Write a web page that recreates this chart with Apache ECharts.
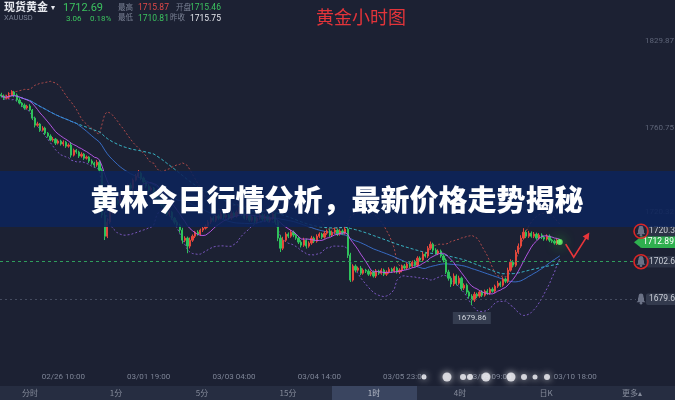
<!DOCTYPE html>
<html><head><meta charset="utf-8">
<script src="https://cdn.jsdelivr.net/npm/echarts/dist/echarts.min.js"></script>
<style>html,body{margin:0;padding:0;background:#1c2133;}#c{width:675px;height:400px;}</style>
</head><body><div id="c"></div>
<script>
// ---- data (hourly XAUUSD) ----
const firstOpen = 1790.2;
const closes = [
1789.5,1788.4,1788.9,1790.0,1791.6,1790.0,1787.4,1785.8,1784.7,1783.2,
1784.2,1782.1,1777.9,1774.2,1774.8,1771.6,1772.7,1770.0,1768.5,1766.4,
1766.9,1764.8,1765.9,1764.3,1765.3,1763.2,1763.8,1758.5,1761.1,1760.1,
1758.0,1759.0,1756.9,1757.5,1755.4,1754.3,1753.3,1754.8,1750.6,1727.1,
1716.0,1723.4,1728.6,1732.3,1734.9,1733.3,1737.0,1739.1,1740.2,1742.8,
1741.2,1745.4,1747.5,1749.1,1746.5,1744.4,1742.3,1740.2,1741.2,1737.5,
1736.0,1733.9,1732.3,1729.7,1727.6,1728.6,1725.5,1723.4,1721.8,1719.2,
1713.9,1715.0,1710.8,1713.9,1716.0,1718.1,1717.1,1719.2,1720.2,1721.3,
1723.4,1725.5,1724.4,1726.5,1725.5,1727.6,1726.0,1727.1,1725.5,1728.1,
1726.5,1728.6,1729.7,1727.6,1725.5,1727.1,1724.4,1726.0,1723.9,1725.5,
1727.1,1725.0,1726.5,1724.4,1725.5,1727.6,1723.4,1715.0,1709.7,1713.9,
1717.1,1716.0,1718.1,1716.6,1715.0,1712.9,1711.3,1713.9,1710.8,1712.4,
1715.0,1713.4,1716.0,1717.1,1715.5,1717.6,1718.7,1716.6,1718.1,1719.2,
1717.1,1718.7,1717.6,1719.7,1706.1,1693.0,1700.3,1698.2,1699.3,1696.6,
1698.2,1697.7,1696.1,1697.2,1695.1,1697.7,1696.6,1698.2,1696.1,1697.2,
1698.7,1697.7,1699.3,1697.2,1698.2,1700.3,1699.3,1701.4,1700.3,1702.4,
1700.8,1704.5,1703.5,1706.6,1705.6,1709.7,1711.8,1708.7,1707.1,1708.2,
1705.6,1703.5,1697.2,1694.0,1690.9,1695.1,1691.4,1694.0,1688.8,1690.3,
1686.7,1684.6,1682.5,1685.6,1684.6,1686.7,1685.1,1687.2,1686.2,1688.2,
1687.2,1689.8,1691.4,1690.3,1693.5,1692.4,1698.2,1702.4,1700.8,1707.6,
1710.8,1715.0,1718.1,1716.0,1717.6,1716.0,1717.1,1715.0,1716.6,1715.5,
1714.5,1716.0,1713.9,1713.4,1712.4,1713.9,1712.9
];
const wickUp = [
1.0,0.8,1.2,1.5,1.0,0.6,0.8,1.0,0.5,0.9,
0.7,1.0,0.6,0.8,1.2,0.5,1.0,0.7,0.6,0.9,
1.1,0.6,0.8,0.7,1.0,0.6,0.9,1.5,0.8,0.6,
0.7,1.0,0.6,0.8,0.5,0.9,0.7,1.2,0.8,1.0,
1.5,2.0,1.2,0.8,1.0,0.9,1.3,0.7,1.0,0.8,
1.2,0.9,1.1,1.6,0.8,0.7,0.6,1.0,0.9,0.6,
0.8,0.7,1.0,0.6,0.8,0.9,0.7,0.6,1.0,0.8,
1.2,1.0,0.8,1.4,0.9,0.7,1.0,0.8,0.6,0.9,
1.1,0.8,1.0,0.7,0.9,1.3,0.8,1.0,0.6,1.2,
0.8,1.0,1.5,0.7,0.9,0.8,1.0,0.7,1.1,0.9,
1.0,0.8,1.2,0.7,0.9,1.4,0.8,1.0,1.5,1.8,
1.0,0.9,1.2,0.8,0.7,0.9,1.0,1.3,0.8,0.9,
1.2,0.8,1.0,0.9,0.7,1.1,0.8,1.0,0.9,1.2,
0.8,1.0,0.9,1.6,1.0,1.2,1.0,0.9,0.8,1.1,
0.9,0.7,1.0,0.8,0.9,1.1,0.7,1.0,0.8,0.9,
1.0,0.8,0.9,0.7,1.0,0.8,1.1,0.9,1.0,0.8,
1.2,1.0,0.9,1.3,1.0,1.1,1.4,0.8,1.0,0.9,
0.8,1.0,0.9,1.2,1.0,1.4,0.9,1.3,0.8,1.0,
0.9,0.8,1.0,1.2,0.8,0.9,1.0,0.8,1.1,0.9,
1.0,0.8,1.2,0.9,1.0,0.8,1.3,1.5,1.0,1.2,
1.4,1.5,2.1,1.0,1.2,0.9,1.1,0.8,1.0,0.9,
0.8,1.0,0.9,0.7,0.8,1.0,0.6
];
const wickDn = [
0.8,1.0,0.7,0.9,0.6,1.1,0.8,0.7,1.0,0.9,
0.8,0.6,1.0,1.2,0.8,0.9,0.7,1.0,0.8,0.6,
0.9,1.0,0.7,0.8,1.1,0.9,0.8,1.3,0.7,0.9,
1.0,0.8,0.9,0.7,1.0,0.8,1.2,0.9,1.0,1.5,
2.0,1.0,0.8,1.2,0.9,1.0,0.7,0.8,1.0,0.9,
0.8,1.0,0.7,0.9,1.1,0.8,1.0,0.9,0.7,1.0,
0.9,1.0,0.8,1.1,0.9,1.0,0.8,1.2,0.9,1.4,
1.8,1.0,3.7,1.2,0.9,1.0,0.8,0.9,1.0,0.7,
0.9,1.0,0.8,1.0,0.9,0.7,1.1,0.8,1.0,0.9,
1.0,0.8,0.9,1.0,0.7,1.0,0.9,0.8,1.0,0.9,
0.8,1.0,0.9,0.8,1.0,0.9,1.2,1.6,2.0,1.0,
0.9,1.0,0.8,1.1,0.9,1.0,1.2,0.9,1.3,0.8,
0.9,1.0,0.8,0.9,1.0,0.8,0.9,1.0,0.8,0.9,
1.0,0.8,0.9,0.7,1.5,1.0,0.8,1.2,0.9,1.0,
0.8,1.0,0.9,1.1,0.8,1.0,0.9,0.8,1.0,0.9,
0.8,1.0,0.9,0.8,1.0,1.1,0.9,0.8,1.0,0.9,
0.8,1.0,0.9,1.0,0.8,1.0,0.9,1.1,0.8,1.0,
0.9,1.2,1.0,1.3,1.5,1.0,1.2,0.9,1.4,1.0,
1.2,1.3,2.6,1.0,1.1,0.9,1.0,0.8,1.0,0.9,
0.8,1.0,0.9,1.0,0.8,1.0,0.9,0.8,1.0,0.9,
1.0,0.9,0.8,1.0,0.9,0.8,1.0,0.9,0.8,1.0,
0.9,0.8,1.0,0.9,0.8,1.0,0.7
];
const totalSlots = 246;
const xTickLabels = ['02/26 10:00','03/01 19:00','03/03 04:00','03/04 14:00','03/05 23:00','03/09 09:00','03/10 18:00'];
const xFirstTick = 24, xTickStep = 33;
const axisLabelTexts = ['1829.87','1760.75','1720.32'];
const axisLabelLevels = [1818.3,1772.7,1728.6];
const tagTexts = ['1720.32','1712.89','1702.63','1679.61'];
const tagLevels = [1718.6,1712.89,1702.63,1683.0];
const lowText = '1679.86';
const lowIndex = 182;
const headerRow1 = [['现货黄金','#e6e8ee',11],['1712.69','#3cc35f',11],['最高','#7a8194',7.5],['1715.87','#e04848',8.5],['开盘','#7a8194',7.5],['1715.46','#3cc35f',8.5]];
const headerRow2 = [['XAUUSD','#7a8194',7.5],['3.06','#3cc35f',8],['0.18%','#3cc35f',8],['最低','#7a8194',7.5],['1710.81','#3cc35f',8.5],['昨收','#7a8194',7.5],['1715.75','#e6e8ee',8.5]];
const titleText = '黄金小时图';
const bannerText = '黄林今日行情分析，最新价格走势揭秘';
const toolbarItems = ['分时','1分','5分','15分','1时','4时','日K','更多▴'];
const toolbarActive = 4;

// ---- build ----
const chart = echarts.init(document.getElementById('c'));
const N = closes.length;
const opens = closes.map((c,i)=> i===0 ? firstOpen : closes[i-1]);
const highs = closes.map((c,i)=> +(Math.max(opens[i],c)+wickUp[i]).toFixed(2));
const lows = closes.map((c,i)=> +(Math.min(opens[i],c)-wickDn[i]).toFixed(2));
const ohlc = closes.map((c,i)=>[opens[i],c,lows[i],highs[i]]);
const cats = Array.from({length:totalSlots},(_,i)=>String(i));
function ma(n){return closes.map((c,i)=>{const s=Math.max(0,i-n+1);let t=0;for(let k=s;k<=i;k++)t+=closes[k];return +(t/(i-s+1)).toFixed(2);});}
function boll(n,m){const mid=ma(n);const up=[],dn=[];closes.forEach((c,i)=>{const s=Math.max(0,i-n+1);let v=0;for(let k=s;k<=i;k++)v+=(closes[k]-mid[i])**2;const sd=Math.sqrt(v/(i-s+1));up.push(+(mid[i]+m*sd).toFixed(2));dn.push(+(mid[i]-m*sd).toFixed(2));});return {up,dn};}
const ma10=ma(10), ma30=ma(30), ma60=ma(60), bb=boll(20,2);
const numFont = 'Roboto, "Noto Sans CJK SC", sans-serif';

const hidden = {color:'rgba(0,0,0,0)',width:0};
const markLineData = [];
axisLabelTexts.forEach((t,i)=>markLineData.push({yAxis:axisLabelLevels[i],lineStyle:hidden,
  label:{show:true,position:'end',formatter:t,color:'#5e6578',fontSize:8,fontFamily:numFont,distance:9}}));
const tagStyles = [
  {bg:'#2c3346',color:'#c9cdd6',dist:10,line:hidden},
  {bg:'#2fb04f',color:'#ffffff',dist:4,line:hidden},
  {bg:'#2c3346',color:'#c9cdd6',dist:10,line:{color:'#2f9d5c',type:[3,3],width:1}},
  {bg:'#333a4d',color:'#c9cdd6',dist:10,line:{color:'#454c60',type:[2,3],width:1}}
];
tagTexts.forEach((t,i)=>{const st=tagStyles[i];markLineData.push({yAxis:tagLevels[i],lineStyle:st.line,
  label:{show:true,position:'end',formatter:t,color:st.color,backgroundColor:st.bg,padding:[2,3,1,3],borderRadius:2,fontSize:8.5,fontFamily:numFont,distance:st.dist}});});

const lineSeries = (name,data,color,type,opacity,z)=>({name,type:'line',data,showSymbol:false,symbol:'none',silent:true,
  lineStyle:{color,width:1,type,opacity},z,animation:false});

chart.setOption({
  backgroundColor:'#1c2133',
  animation:false,
  grid:{left:0,right:39,top:19,bottom:40,containLabel:false,outerBoundsMode:'none'},
  xAxis:{type:'category',data:cats,boundaryGap:true,axisLine:{show:false},axisTick:{show:false},splitLine:{show:false},
    axisLabel:{show:true,color:'#7d8496',fontSize:8,fontFamily:numFont,margin:13,hideOverlap:false,
      interval:(idx)=> idx>=xFirstTick && (idx-xFirstTick)%xTickStep===0,
      formatter:(v)=>{const k=(Number(v)-xFirstTick)/xTickStep;return xTickLabels[k]||'';}}},
  yAxis:{type:'value',min:1651.1,max:1829.87,position:'right',axisLine:{show:false},axisTick:{show:false},axisLabel:{show:false},splitLine:{show:false}},
  series:[
    {type:'candlestick',data:ohlc,barWidth:'68%',z:3,
      itemStyle:{color:'#e5483c',color0:'#2fc25b',borderColor:'#e5483c',borderColor0:'#2fc25b',borderWidth:1},
      markLine:{silent:true,symbol:['none','none'],animation:false,data:markLineData},
      markPoint:{silent:true,animation:false,data:[{coord:[lowIndex,lows[lowIndex]],symbol:'rect',symbolSize:[38,12],symbolOffset:[0,13],
        itemStyle:{color:'#353d50'},label:{show:true,position:'inside',formatter:lowText,color:'#d0d4dc',fontSize:8,fontFamily:numFont}}]}},
    lineSeries('bbUp',bb.up,'#c5504e',[2,2],0.85,2),
    lineSeries('bbDn',bb.dn,'#8a60d8',[2,2],0.85,2),
    lineSeries('ma60',ma60,'#3cc8d8',[3,2],0.9,2),
    lineSeries('ma30',ma30,'#3c78dc','solid',0.85,2),
    lineSeries('ma10',ma10,'#c05af2','solid',0.9,4),
    {type:'scatter',data:[[N-1,closes[N-1]]],symbolSize:6,z:6,silent:true,
      itemStyle:{color:'#6cff6c',shadowBlur:12,shadowColor:'#33ff33'}}
  ]
});

// ---- decorations ----
const g = [];
const txt = (x,y,text,color,size,align,weight,font)=>({type:'text',z:200,silent:true,
  style:{x,y,text,fill:color,font:(weight||'normal')+' '+size+'px '+(font||numFont),textAlign:align||'left',textVerticalAlign:'middle'}});
const row1x=[4,63,118,138,176,190], row2x=[4,66,90,118,138,170,190];
headerRow1.forEach((h,i)=>g.push(txt(row1x[i],8,h[0],h[1],h[2],'left',i===0?'bold':'normal')));
g.push(txt(51,8,'▾','#e6e8ee',8));
headerRow2.forEach((h,i)=>g.push(txt(row2x[i],18.5,h[0],h[1],h[2])));
g.push(txt(361,17,titleText,'#e3343a',18,'center','normal','"Noto Sans CJK SC", sans-serif'));

// banner
g.push({type:'rect',z:150,silent:true,shape:{x:0,y:171,width:675,height:56},style:{fill:'rgba(13,35,90,0.88)'}});
g.push({type:'text',z:160,silent:true,style:{x:337,y:200,text:bannerText,fill:'#ffffff',font:'900 29px "Noto Sans CJK SC", sans-serif',
  textAlign:'center',textVerticalAlign:'middle',shadowBlur:3,shadowColor:'rgba(0,0,0,0.6)'}});

// toolbar
g.push({type:'rect',z:150,silent:true,shape:{x:0,y:386,width:675,height:14},style:{fill:'#262d41'}});
g.push({type:'rect',z:151,silent:true,shape:{x:332,y:386,width:85,height:14},style:{fill:'#3a4560'}});
toolbarItems.forEach((t,i)=>g.push(txt(30+86*i,393,t,i===toolbarActive?'#b8bdc9':'#858b9b',8,'center','normal','"Noto Sans CJK SC", sans-serif')));

// bells, rings and tag pointer
[0,2,3].forEach(i=>{
  const y = chart.convertToPixel({yAxisIndex:0}, tagLevels[i]);
  const x = 641;
  g.push({type:'polygon',z:170,silent:true,shape:{points:[[x-2,y-3.5],[x+2,y-3.5],[x+3,y-1],[x+3,y+1.5],[x+4.5,y+3],[x-4.5,y+3],[x-3,y+1.5],[x-3,y-1]]},style:{fill:'#6b7286'}});
  g.push({type:'circle',z:170,silent:true,shape:{cx:x,cy:y-3.2,r:2.4},style:{fill:'#6b7286'}});
  g.push({type:'circle',z:170,silent:true,shape:{cx:x,cy:y+4,r:1.3},style:{fill:'#6b7286'}});
  if(i!==3) g.push({type:'circle',z:171,silent:true,shape:{cx:x,cy:y,r:7},style:{fill:'none',stroke:'#d92626',lineWidth:1.6}});
});
{const y = chart.convertToPixel({yAxisIndex:0}, tagLevels[1]);
 g.push({type:'polygon',z:170,silent:true,shape:{points:[[634,y],[641,y-5.5],[641,y+5.5]]},style:{fill:'#2fb04f'}});}

// arrow from last candle
const p0 = chart.convertToPixel({seriesIndex:0},[N-1,closes[N-1]]);
const a=[p0[0]+6,p0[1]+2], b=[p0[0]+14,p0[1]+15], c=[p0[0]+28,p0[1]-7];
g.push({type:'polyline',z:180,silent:true,shape:{points:[a,b,c]},style:{stroke:'#e8353a',lineWidth:1.6,fill:null}});
{const dx=c[0]-b[0],dy=c[1]-b[1],L=Math.hypot(dx,dy),ux=dx/L,uy=dy/L,hl=7,hw=3.5;
 const tip=[c[0]+ux*3,c[1]+uy*3];
 g.push({type:'polygon',z:181,silent:true,shape:{points:[tip,[tip[0]-ux*hl-uy*hw,tip[1]-uy*hl+ux*hw],[tip[0]-ux*hl+uy*hw,tip[1]-uy*hl-ux*hw]]},style:{fill:'#e8353a'}});}

// blurred artifacts near the time labels
[[424,2.5],[447,4.5],[463,3],[470,3],[486,4.5],[511,4.5],[524,3],[535,2.5],[547,3]].forEach(d=>
  g.push({type:'circle',z:190,silent:true,shape:{cx:d[0],cy:377,r:d[1]},style:{fill:'rgba(235,235,240,0.85)',shadowBlur:7,shadowColor:'rgba(255,255,255,0.9)'}}));

chart.setOption({graphic:g});
</script></body></html>
